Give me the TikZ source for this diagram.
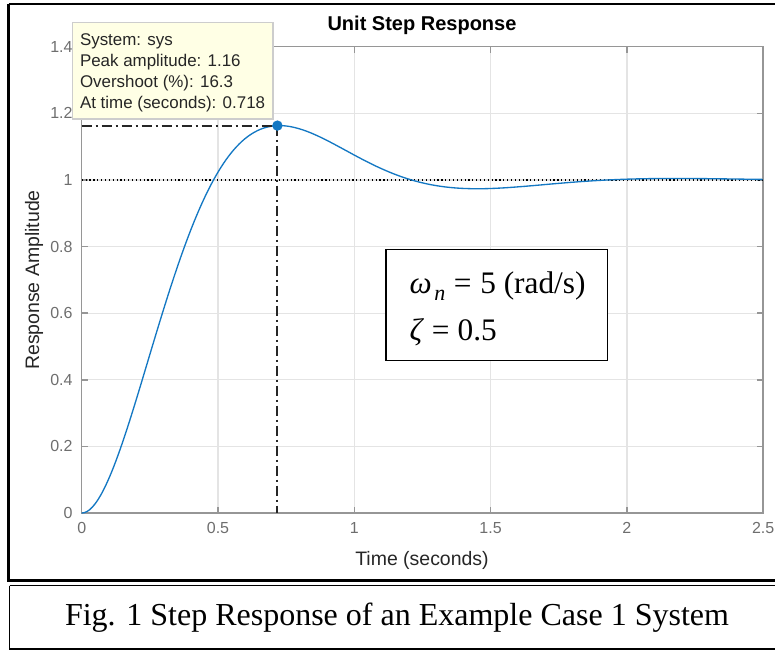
\documentclass[tikz,border=0pt]{standalone}
\usepackage{fontspec}
\setmainfont{Liberation Serif}
\setsansfont{Liberation Sans}

\definecolor{axisgray}{RGB}{150,150,150}
\definecolor{gridgray}{RGB}{228,228,228}
\definecolor{labelgray}{RGB}{110,110,110}
\definecolor{textdark}{RGB}{38,38,38}
\definecolor{curveblue}{RGB}{20,120,195}
\definecolor{tipfill}{RGB}{255,255,229}
\definecolor{tipedge}{RGB}{205,205,205}

\tikzset{every picture/.style={line width=0.75pt}}
\tikzset{
  gridline/.style={draw=gridgray, line width=0.9pt},
  axisline/.style={draw=axisgray, line width=1.1pt},
  ticklabel/.style={inner sep=0.75pt, text=labelgray, font=\sffamily\fontsize{12}{12}\selectfont},
  axislabel/.style={inner sep=0.75pt, text=textdark, font=\sffamily\fontsize{14.6}{14.6}\selectfont},
  tiptext/.style={anchor=base west, inner sep=0.75pt, text=textdark, font=\sffamily\fontsize{12.7}{12.7}\selectfont},
  dashdot/.style={line width=1.4pt, draw=black!85, dash pattern=on 7.5pt off 3pt on 1.5pt off 3pt},
  paramtext/.style={anchor=base west, inner sep=0.75pt, font=\fontsize{23.5}{23.5}\selectfont},
}

\begin{document}
\begin{tikzpicture}[x=0.75pt,y=0.75pt,yscale=-1,xscale=1]
\useasboundingbox (0,0) rectangle (775,650);

% outer frame of the figure and caption frame
\draw [line width=1.6pt] (8.5,3.8) -- (790,3.8) (8.5,3.8) -- (8.5,580.5) -- (790,580.5) ;
\draw [line width=1pt] (9.5,585.5) -- (790,585.5) (9.5,585.5) -- (9.5,649) -- (790,649) ;

% grid
\foreach \gx in {218.0,354.3,490.6,626.9} {
  \draw [gridline] (\gx,46.7) -- (\gx,513) ;
}
\foreach \gy in {446.4,379.8,313.1,246.5,179.9,113.3} {
  \draw [gridline] (81.7,\gy) -- (763.2,\gy) ;
}

% ticks on all four sides
\foreach \gx in {218.0,354.3,490.6,626.9} {
  \draw [axisline] (\gx,513) -- (\gx,507) ;
  \draw [axisline] (\gx,46.7) -- (\gx,52.7) ;
}
\foreach \gy in {446.4,379.8,313.1,246.5,179.9,113.3} {
  \draw [axisline] (81.7,\gy) -- (87.7,\gy) ;
  \draw [axisline] (763.2,\gy) -- (757.2,\gy) ;
}

% axes box
\draw [axisline] (81.7,46.7) rectangle (763.2,513) ;

% Text Node: x tick labels
\node (xt0) [ticklabel, anchor=north] at (81.7,521) {0};
\node (xt1) [ticklabel, anchor=north] at (218.0,521) {0.5};
\node (xt2) [ticklabel, anchor=north] at (354.3,521) {1};
\node (xt3) [ticklabel, anchor=north] at (490.6,521) {1.5};
\node (xt4) [ticklabel, anchor=north] at (626.9,521) {2};
\node (xt5) [ticklabel, anchor=north] at (763.2,521) {2.5};
% Text Node: y tick labels
\node (yt0) [ticklabel, anchor=east] at (74,513) {0};
\node (yt1) [ticklabel, anchor=east] at (74,446.4) {0.2};
\node (yt2) [ticklabel, anchor=east] at (74,379.8) {0.4};
\node (yt3) [ticklabel, anchor=east] at (74,313.1) {0.6};
\node (yt4) [ticklabel, anchor=east] at (74,246.5) {0.8};
\node (yt5) [ticklabel, anchor=east] at (74,179.9) {1};
\node (yt6) [ticklabel, anchor=east] at (74,113.3) {1.2};
\node (yt7) [ticklabel, anchor=east] at (74,46.7) {1.4};

% Text Node: title and axis labels
\node (title) [axislabel, anchor=base, text=black, font=\sffamily\bfseries\fontsize{15}{15}\selectfont] at (422,30) {Unit Step Response};
\node (xlabel) [axislabel, anchor=base] at (422,565) {Time (seconds)};
\node (ylabel) [axislabel, anchor=base, rotate=90] at (39,280) {Response Amplitude};

% final value
\draw [line width=0.9pt, dotted] (81.7,179.9) -- (763.2,179.9) ;

% step response, wn = 5, zeta = 0.5
\draw [curveblue, line width=1pt] plot [domain=0:2.5, samples=260, smooth]
  ({81.7+272.6*\x},{513-333.1*(1-exp(-2.5*\x)*(cos(4.3301*\x r)+0.57735*sin(4.3301*\x r)))}) ;

% peak marker
\coordinate (peak) at (277.4,125.6);
\coordinate (peakx) at (81.7,125.6);
\coordinate (peakt) at (277.4,513);
\draw [dashdot] (peakx) -- (peak) ;
\draw [dashdot] (peak) -- (peakt) ;
\fill [curveblue] (peak) circle [radius=5.2] ;

% data tip
\draw [draw=tipedge, fill=tipfill, line width=0.8pt] (72.7,22.7) rectangle (273,119) ;
\node (tip1) [tiptext] at (78.5,45.5) {System: sys};
\node (tip2) [tiptext] at (78.5,66.5) {Peak amplitude: 1.16};
\node (tip3) [tiptext] at (78.5,87.5) {Overshoot (\%): 16.3};
\node (tip4) [tiptext] at (78.5,108.5) {At time (seconds): 0.718};

% parameter box
\draw [fill=white, line width=0.9pt] (386,249.3) rectangle (607.3,360.7) ;
\node (wn) [paramtext] at (408,293)
  {\textit{ω}\kern2pt\raisebox{-5.5pt}{\fontsize{16.5}{16.5}\selectfont\textit{n}}\kern6.5pt=\kern6.5pt5 (rad/s)};
\node (zeta) [paramtext] at (408,340)
  {\textit{ζ}\kern6pt=\kern6pt0.5};

% Text Node: caption
\node (caption) [anchor=base, inner sep=0.75pt, font=\fontsize{24}{24}\selectfont] at (397,625) {Fig. 1 Step Response of an Example Case 1 System};

\end{tikzpicture}
\end{document}
